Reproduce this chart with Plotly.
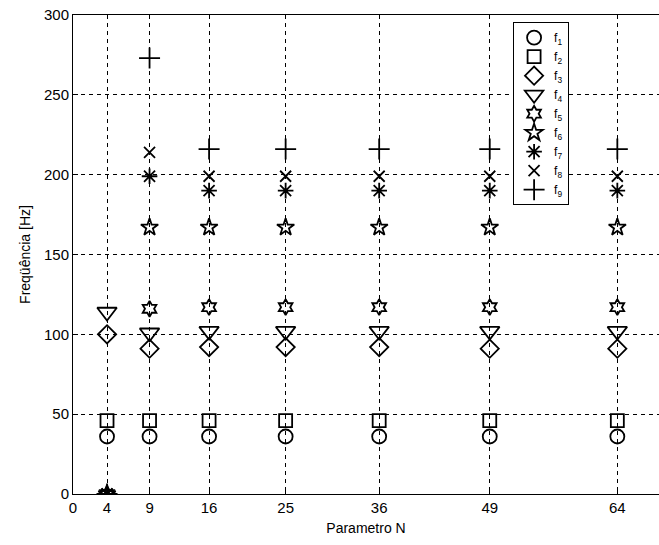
import plotly.graph_objects as go

# Parameter N values and the natural frequencies f1..f9 [Hz]
N = [4, 9, 16, 25, 36, 49, 64]
f1 = [36, 36, 36, 36, 36, 36, 36]
f2 = [46, 46, 46, 46, 46, 46, 46]
f3 = [100, 91, 92, 92, 92, 91, 91]
f4 = [114, 101, 102, 102, 102, 102, 102]
f5 = [0, 116, 117, 117, 117, 117, 117]
f6 = [0, 167, 167, 167, 167, 167, 167]
f7 = [0, 199, 190, 190, 190, 190, 190]
f8 = [0, 214, 199, 199, 199, 199, 199]
f9 = [0, 273, 216, 216, 216, 216, 216]

series = [f1, f2, f3, f4, f5, f6, f7, f8, f9]
names = ["f<sub>1</sub>", "f<sub>2</sub>", "f<sub>3</sub>", "f<sub>4</sub>", "f<sub>5</sub>",
         "f<sub>6</sub>", "f<sub>7</sub>", "f<sub>8</sub>", "f<sub>9</sub>"]
symbols = ["circle-open", "square-open", "diamond-open", "triangle-down-open", "hexagram-open",
           "star-open", "asterisk-open", "x-thin-open", "cross-thin-open"]
sizes = [14, 13, 14, 17, 12, 13, 13, 11, 15]

xtick_vals = [0, 4, 9, 16, 25, 36, 49, 64]
ytick_vals = [0, 50, 100, 150, 200, 250, 300]

font_family = "Liberation Sans Narrow, Liberation Sans, Arial, sans-serif"

fig = go.Figure()
for vals, name, sym, sz in zip(series, names, symbols, sizes):
    fig.add_trace(go.Scatter(
        x=N, y=vals, mode="markers", name=name,
        marker=dict(symbol=sym, size=sz, color="black",
                    line=dict(color="black", width=1.8)),
    ))

axis_common = dict(
    showgrid=True, gridcolor="black", gridwidth=1, griddash="4px,4px",
    showline=True, linecolor="black", linewidth=1,
    ticks="inside", ticklen=5, tickcolor="black",
    tickfont=dict(family=font_family, size=15, color="black"),
    zeroline=False,
)

fig.update_xaxes(
    range=[0, 68.9], tickmode="array", tickvals=xtick_vals,
    title=dict(text="Parametro N", font=dict(family=font_family, size=14, color="black"),
               standoff=8),
    mirror=True, **axis_common,
)
fig.update_yaxes(
    range=[0, 300], tickmode="array", tickvals=ytick_vals,
    title=dict(text="Freqüência [Hz]", font=dict(family=font_family, size=14, color="black"),
               standoff=10),
    **axis_common,
)

fig.update_layout(
    width=659, height=545,
    margin=dict(l=73, r=0, t=15, b=51),
    plot_bgcolor="white", paper_bgcolor="white",
    showlegend=True,
    legend=dict(
        x=0.751, y=0.985, xanchor="left", yanchor="top",
        bgcolor="white", bordercolor="black", borderwidth=1,
        font=dict(family=font_family, size=12, color="black"),
        itemwidth=30, tracegroupgap=0,
    ),
)

fig.write_html("out.html")
